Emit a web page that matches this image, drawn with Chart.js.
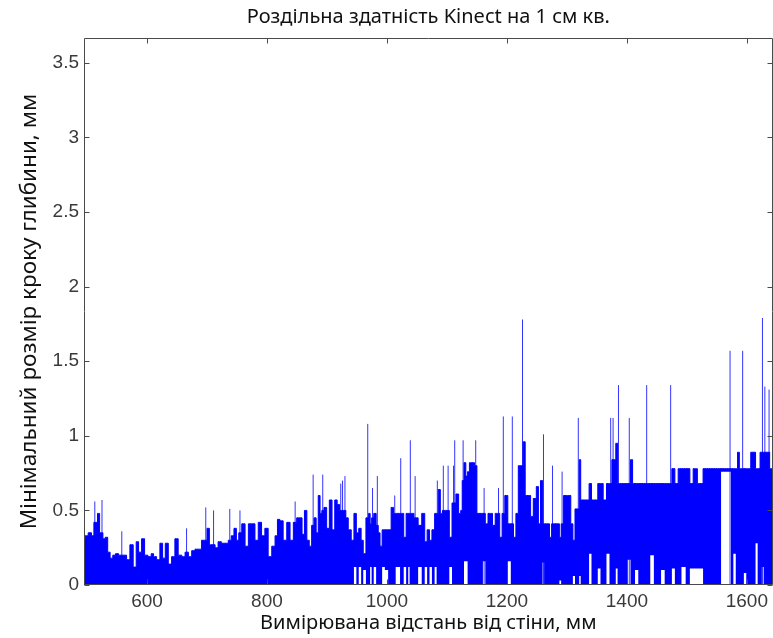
<!DOCTYPE html>
<html>
<head>
<meta charset="utf-8">
<script src="https://cdn.jsdelivr.net/npm/chart.js@4.4.1/dist/chart.umd.min.js"></script>
<style>
  html, body { margin: 0; padding: 0; background: #ffffff; }
  #wrap { width: 773px; height: 638px; position: relative; }
</style>
</head>
<body>
<div id="wrap"><canvas id="c" width="773" height="638"></canvas></div>
<script>
// ---- Data ----
const chartTitle = "Роздільна здатність Kinect на 1 см кв.";
const xTitle = "Вимірювана відстань від стіни, мм";
const yTitle = "Мінімальний розмір кроку глибини, мм";

const xTicks = [600, 800, 1000, 1200, 1400, 1600];
const yTicks = [0, 0.5, 1, 1.5, 2, 2.5, 3, 3.5];

// measured distance to the wall (mm)
const distance = [
  495,499,505,510,513,516,519,523,525,528,533,536,541,545,550,555,558,563,569,574,
  580,584,588,594,598,605,609,613,619,624,628,633,638,644,649,655,661,666,672,677,
  683,688,694,698,702,706,711,716,721,727,733,738,743,747,751,755,761,766,772,777,
  783,788,794,799,805,811,816,819,824,830,836,841,847,852,856,861,864,869,872,877,
  880,884,887,890,893,897,902,906,911,915,919,923,926,930,933,938,943,947,951,955,
  959,962,968,971,973,976,980,984,987,990,994,999,1005,1009,1013,1016,1021,1023,1026,1030,
  1034,1037,1039,1043,1047,1049,1055,1061,1065,1069,1073,1077,1082,1084,1087,1091,1094,1098,1102,1106,
  1111,1113,1117,1122,1124,1127,1130,1133,1136,1139,1144,1148,1152,1158,1162,1166,1171,1174,1178,1183,
  1186,1190,1194,1199,1204,1209,1213,1217,1221,1223,1226,1228,1233,1238,1241,1247,1251,1254,1258,1261,
  1263,1269,1273,1276,1280,1286,1289,1292,1297,1301,1305,1308,1312,1315,1319,1322,1324,1330,1336,1338,
  1344,1349,1354,1358,1363,1369,1373,1377,1380,1383,1386,1388,1394,1399,1404,1408,1411,1416,1422,1428,
  1433,1436,1442,1448,1454,1460,1466,1470,1473,1477,1483,1488,1494,1502,1508,1513,1516,1519,1524,1530,
  1536,1542,1548,1554,1560,1566,1572,1575,1580,1583,1586,1589,1593,1597,1601,1605,1608,1613,1616,1620,
  1624,1626,1630,1634,1637,1639,1643
];

// top of the dense (solid) part of the trace (mm)
const massTop = [
  0.31,0.33,0.35,0.33,0.42,0.42,0.48,0.35,0.35,0.31,0.32,0.22,0.18,0.20,0.21,0.20,0.20,0.20,0.17,0.27,
  0.12,0.29,0.22,0.31,0.20,0.19,0.21,0.19,0.17,0.28,0.18,0.28,0.14,0.19,0.31,0.20,0.19,0.22,0.19,0.23,
  0.24,0.24,0.30,0.30,0.38,0.27,0.27,0.25,0.29,0.28,0.28,0.30,0.33,0.38,0.30,0.35,0.41,0.26,0.41,0.41,
  0.30,0.42,0.33,0.38,0.19,0.26,0.33,0.44,0.43,0.30,0.42,0.30,0.42,0.45,0.45,0.34,0.50,0.30,0.26,0.40,
  0.45,0.35,0.60,0.48,0.50,0.52,0.38,0.57,0.37,0.57,0.54,0.50,0.50,0.50,0.45,0.37,0.30,0.48,0.35,0.38,
  0.30,0.21,0.45,0.48,0.41,0.45,0.48,0.40,0.35,0.26,0.37,0.37,0.37,0.52,0.48,0.48,0.48,0.48,0.48,0.32,
  0.48,0.48,0.48,0.48,0.45,0.45,0.40,0.48,0.29,0.37,0.30,0.37,0.48,0.48,0.64,0.48,0.50,0.50,0.50,0.32,
  0.55,0.55,0.61,0.48,0.50,0.70,0.82,0.73,0.76,0.82,0.82,0.80,0.48,0.48,0.48,0.41,0.48,0.48,0.40,0.48,
  0.48,0.32,0.48,0.60,0.41,0.41,0.32,0.48,0.80,0.80,0.80,0.96,0.60,0.60,0.46,0.58,0.66,0.41,0.70,0.41,
  0.41,0.41,0.32,0.41,0.41,0.41,0.32,0.41,0.60,0.60,0.60,0.41,0.30,0.51,0.51,0.84,0.57,0.57,0.57,0.68,
  0.57,0.57,0.68,0.68,0.57,0.68,0.68,0.84,0.84,0.95,0.68,0.68,0.68,0.68,0.68,0.84,0.68,0.68,0.68,0.68,
  0.68,0.68,0.68,0.68,0.68,0.68,0.68,0.68,0.68,0.78,0.68,0.78,0.78,0.78,0.68,0.78,0.78,0.68,0.68,0.78,
  0.78,0.78,0.78,0.78,0.78,0.78,0.78,0.78,0.78,0.78,0.89,0.78,0.78,0.78,0.78,0.78,0.89,0.89,0.78,0.78,
  0.89,0.89,0.89,0.89,0.89,0.78,0.78
];

// places where the trace does not come down to zero (white gaps at the bottom)
const gapAt  = [947,955,962,973,980,994,999,1016,1021,1030,1037,1055,1065,1073,1082,1106,1130,1133,1162,1204,
                1261,1289,1312,1322,1338,1354,1369,1383,1404,1416,1442,1460,1477,1494,1508,1513,1516,1519,1524,1560,
                1566,1572,1580,1597,1616,1626];
const gapTop = [0.12,0.12,0.10,0.12,0.12,0.12,0.10,0.12,0.12,0.12,0.12,0.12,0.12,0.12,0.12,0.12,0.16,0.16,0.16,0.16,
                0.15,0.03,0.06,0.06,0.21,0.11,0.21,0.11,0.17,0.10,0.20,0.10,0.11,0.12,0.11,0.11,0.11,0.11,0.11,0.76,
                0.76,0.76,0.21,0.08,0.28,0.12];

// isolated thin peaks of the trace
const spikeAt  = [513,525,558,666,698,711,738,755,847,877,893,923,926,930,968,976,984,1013,1023,1039,
                  1047,1084,1094,1102,1111,1113,1127,1148,1162,1186,1194,1209,1226,1261,1276,1292,1319,1373,1377,1386,
                  1404,1433,1473,1572,1593,1626,1630,1637];
const spikeTop = [0.56,0.57,0.36,0.38,0.52,0.50,0.51,0.50,0.56,0.74,0.74,0.68,0.70,0.73,1.08,0.65,0.73,0.60,0.85,0.97,
                  0.73,0.70,0.80,0.80,0.80,0.97,0.97,0.97,0.65,0.65,1.13,1.13,1.78,1.01,0.80,0.76,1.12,1.12,1.12,1.34,
                  1.12,1.34,1.34,1.57,1.57,1.79,1.33,1.31];

// ---- build datasets from the arrays ----
const massPts = distance.map((d, i) => ({ x: d, y: massTop[i] }));
const lowerPts = distance.map((d) => {
  const k = gapAt.indexOf(d);
  return { x: d, y: k >= 0 ? gapTop[k] : 0 };
});
const spikePts = [];
spikeAt.forEach((d, i) => {
  spikePts.push({ x: d, y: 0 }, { x: d, y: spikeTop[i] }, { x: d, y: null });
});

const BLUE = '#0000ff';
const AXIS = '#4a4a4a';

const boxPlugin = {
  id: 'matlabBox',
  afterDatasetsDraw(chart) {
    const { ctx, chartArea: a, scales } = chart;
    ctx.save();
    ctx.strokeStyle = AXIS;
    ctx.lineWidth = 1;
    ctx.beginPath();
    const L = Math.round(a.left) + 0.5, R = Math.round(a.right) - 0.5;
    const T = Math.round(a.top) + 0.5, B = Math.round(a.bottom) - 0.5;
    ctx.moveTo(L, T); ctx.lineTo(R, T); ctx.lineTo(R, B); ctx.lineTo(L, B); ctx.closePath();
    const tl = 5;
    xTicks.forEach(v => {
      const px = Math.round(scales.x.getPixelForValue(v)) + 0.5;
      ctx.moveTo(px, B); ctx.lineTo(px, B - tl);
      ctx.moveTo(px, T); ctx.lineTo(px, T + tl);
    });
    yTicks.forEach(v => {
      const py = Math.round(scales.y.getPixelForValue(v)) + 0.5;
      ctx.moveTo(L, py); ctx.lineTo(L + tl, py);
      ctx.moveTo(R, py); ctx.lineTo(R - tl, py);
    });
    ctx.stroke();
    ctx.restore();
  }
};

new Chart(document.getElementById('c'), {
  type: 'line',
  data: {
    datasets: [
      {
        label: 'mass',
        data: massPts,
        borderColor: BLUE,
        backgroundColor: BLUE,
        borderWidth: 1,
        pointRadius: 0,
        stepped: 'middle',
        fill: '+1',
        order: 2
      },
      {
        label: 'lower',
        data: lowerPts,
        borderWidth: 0,
        borderColor: 'rgba(0,0,0,0)',
        pointRadius: 0,
        stepped: 'middle',
        fill: false,
        order: 3
      },
      {
        label: 'spikes',
        data: spikePts,
        borderColor: 'rgba(0,0,255,0.8)',
        borderWidth: 1,
        pointRadius: 0,
        spanGaps: false,
        fill: false,
        order: 1
      }
    ]
  },
  options: {
    responsive: false,
    animation: false,
    layout: { padding: { left: 0, right: 0, top: 0, bottom: 0 } },
    plugins: {
      legend: { display: false },
      tooltip: { enabled: false },
      title: {
        display: true,
        fullSize: false,
        text: chartTitle,
        color: '#111',
        font: { family: 'Noto Sans', size: 20, weight: 'normal' },
        padding: { top: 5, bottom: 9 }
      }
    },
    scales: {
      x: {
        type: 'linear',
        min: 495,
        max: 1643,
        grid: { display: false, drawTicks: false },
        border: { display: false },
        afterBuildTicks: (axis) => { axis.ticks = xTicks.map(v => ({ value: v })); },
        afterFit: (s) => { s.height = 53; },
        ticks: {
          color: '#3a3a3a',
          padding: 5,
          maxRotation: 0,
          autoSkip: false,
          font: { family: 'Liberation Sans', size: 19 },
          callback: (v) => String(v)
        },
        title: {
          display: true,
          text: xTitle,
          color: '#111',
          font: { family: 'Noto Sans', size: 20 },
          padding: { top: 0, bottom: 3 }
        }
      },
      y: {
        min: 0,
        max: 3.667,
        grid: { display: false, drawTicks: false },
        border: { display: false },
        afterBuildTicks: (axis) => { axis.ticks = yTicks.map(v => ({ value: v })); },
        afterFit: (s) => { s.width = 84; },
        ticks: {
          color: '#3a3a3a',
          padding: 5,
          autoSkip: false,
          font: { family: 'Liberation Sans', size: 19 },
          callback: (v) => String(v)
        },
        title: {
          display: true,
          text: yTitle,
          color: '#111',
          font: { family: 'Noto Sans', size: 22.5 },
          padding: { top: 16, bottom: 0 }
        }
      }
    }
  },
  plugins: [boxPlugin]
});
</script>
</body>
</html>
